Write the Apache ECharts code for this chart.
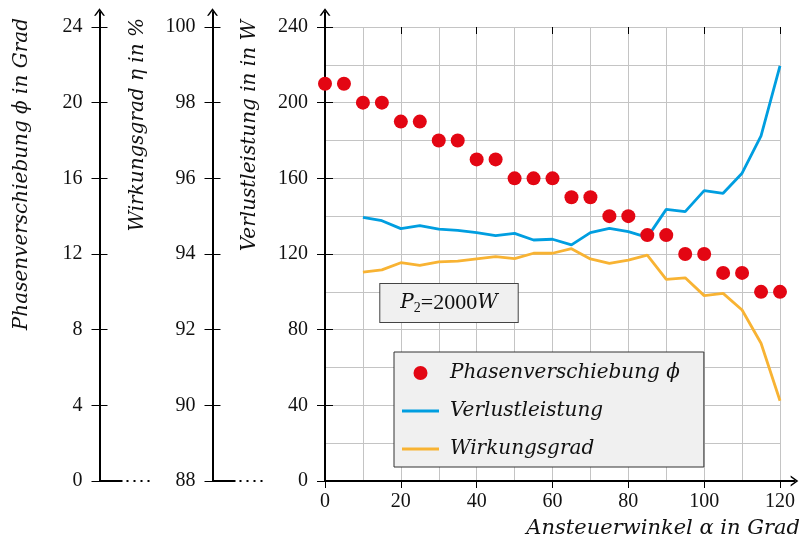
<!DOCTYPE html>
<html>
<head>
<meta charset="utf-8">
<script src="https://cdn.jsdelivr.net/npm/echarts@6/dist/echarts.min.js"></script>
<style>
  html, body { margin: 0; padding: 0; background: #fff; }
  #chart { width: 801px; height: 543px; }
</style>
</head>
<body>
<div id="chart"></div>
<script>
// Ansteuerwinkel (x) for the phase-shift measurements
const alphaPhase = [0, 5, 10, 15, 20, 25, 30, 35, 40, 45, 50, 55, 60, 65, 70, 75, 80, 85, 90, 95, 100, 105, 110, 115, 120];
// Phasenverschiebung phi in Grad
const phase = [21, 21, 20, 20, 19, 19, 18, 18, 17, 17, 16, 16, 16, 15, 15, 14, 14, 13, 13, 12, 12, 11, 11, 10, 10];

// Ansteuerwinkel for losses and efficiency
const alphaLoss = [10, 15, 20, 25, 30, 35, 40, 45, 50, 55, 60, 65, 70, 75, 80, 85, 90, 95, 100, 105, 110, 115, 120];
// Verlustleistung in W
const loss = [139.4, 137.6, 133.4, 135.0, 133.1, 132.5, 131.3, 129.7, 130.9, 127.4, 127.8, 124.8, 131.3, 133.6, 131.8, 128.8, 143.6, 142.4, 153.5, 152.1, 162.7, 182.4, 219.5];
// Wirkungsgrad eta in %
const efficiency = [93.52, 93.58, 93.77, 93.70, 93.79, 93.81, 93.87, 93.93, 93.88, 94.02, 94.02, 94.14, 93.87, 93.75, 93.84, 93.97, 93.33, 93.37, 92.90, 92.96, 92.52, 91.64, 90.12];

// axis ranges: [min, max, step]
const xRange = [0, 120, 20];
const lossRange = [0, 240, 40];
const effRange = [88, 100, 2];
const phaseRange = [0, 24, 4];

const names = {
  phase: 'Phasenverschiebung \u03D5',
  loss: 'Verlustleistung',
  eff: 'Wirkungsgrad'
};

const RED = '#e30613', BLUE = '#009ee0', ORANGE = '#f8b333';
const GRIDC = '#c4c4c4';
const NUMFONT = 'Liberation Serif';
const MATHFONT = 'DejaVu Serif';

// plot frame
const L = 325, R = 21, T = 27, B = 62;
const OFF_EFF = 112.5, OFF_PHASE = 225.5;

const axisLineStyle = { color: '#000', width: 2 };
const arrowPath = 'path://M0,7 L5,0 L10,7 L8.4,7 L5,2.3 L1.6,7 Z';
// flat bar used as the legend key of the two curves
const lineKey = 'path://M0,0 L37,0 L37,3 L0,3 Z';

function yPair(range, offset, withGrid) {
  const main = {
    type: 'value', gridIndex: 0, position: 'left', offset: offset,
    min: range[0], max: range[1], interval: range[2],
    axisLine: { show: true, lineStyle: axisLineStyle },
    axisTick: { show: true, inside: false, length: 8, lineStyle: { color: '#000', width: 1 } },
    axisLabel: { show: true, margin: 17, fontFamily: NUMFONT, fontSize: 20, color: '#111' },
    splitLine: { show: withGrid, lineStyle: { color: GRIDC, width: 1 } },
    minorTick: { show: false, splitNumber: 2 },
    minorSplitLine: { show: withGrid, lineStyle: { color: GRIDC, width: 1 } }
  };
  const inner = {
    type: 'value', gridIndex: 0, position: 'left', offset: offset,
    min: range[0], max: range[1], interval: range[2],
    axisLine: { show: false },
    axisTick: { show: true, inside: true, length: 8, lineStyle: { color: '#000', width: 1 } },
    axisLabel: { show: false },
    splitLine: { show: false }
  };
  return [main, inner];
}

function arrowY(offset) {
  return {
    type: 'value', gridIndex: 1, position: 'left', offset: offset, min: 0, max: 1,
    axisLine: { show: true, lineStyle: axisLineStyle, symbol: ['none', arrowPath], symbolSize: [11, 8] },
    axisTick: { show: false }, axisLabel: { show: false }, splitLine: { show: false }
  };
}

const yAxes = [].concat(
  yPair(lossRange, 0, true),
  yPair(effRange, OFF_EFF, false),
  yPair(phaseRange, OFF_PHASE, false),
  [arrowY(0), arrowY(OFF_EFF), arrowY(OFF_PHASE)]
);

const xAxes = [
  {
    type: 'value', gridIndex: 0, min: xRange[0], max: xRange[1], interval: xRange[2],
    axisLine: { show: true, onZero: false, lineStyle: axisLineStyle },
    axisTick: { show: true, inside: false, length: 7, lineStyle: { color: '#000', width: 1 } },
    axisLabel: { margin: 11, fontFamily: NUMFONT, fontSize: 20, color: '#111' },
    splitLine: { show: true, lineStyle: { color: GRIDC, width: 1 } },
    minorTick: { show: false, splitNumber: 2 },
    minorSplitLine: { show: true, lineStyle: { color: GRIDC, width: 1 } }
  },
  {
    type: 'value', gridIndex: 0, min: xRange[0], max: xRange[1], interval: xRange[2],
    axisLine: { show: false, onZero: false },
    axisTick: { show: true, inside: true, length: 7, lineStyle: { color: '#000', width: 1 } },
    axisLabel: { show: false }, splitLine: { show: false }
  },
  {
    type: 'value', gridIndex: 1, min: 0, max: 1,
    axisLine: { show: true, onZero: false, lineStyle: axisLineStyle, symbol: ['none', arrowPath], symbolSize: [11, 8] },
    axisTick: { show: false }, axisLabel: { show: false }, splitLine: { show: false }
  }
];

const titleStyle = { fontFamily: MATHFONT, fontStyle: 'italic', fontSize: 20, fill: '#111' };

function vTitle(x, y, text) {
  return {
    type: 'text', x: x, y: y, rotation: Math.PI / 2, z: 50,
    style: Object.assign({ text: text, align: 'right', verticalAlign: 'middle' }, titleStyle)
  };
}

// short axis stubs with dots at the foot of the two detached scales
function brokenFoot(offset) {
  const x0 = L - offset, y0 = 543 - B;
  return [
    { type: 'line', z: 50, shape: { x1: x0, y1: y0, x2: x0 + 23, y2: y0 }, style: { stroke: '#000', lineWidth: 2 } },
    { type: 'line', z: 50, shape: { x1: x0 + 27, y1: y0, x2: x0 + 53, y2: y0 }, style: { stroke: '#000', lineWidth: 2, lineDash: [2, 5] } }
  ];
}

const option = {
  animation: false,
  backgroundColor: '#fff',
  grid: [
    { left: L, right: R, top: T, bottom: B },
    { left: L, right: 6.5, top: 12, bottom: B }
  ],
  xAxis: xAxes,
  yAxis: yAxes,
  legend: {
    orient: 'vertical', left: 394, top: 352,
    data: [
      { name: names.phase, icon: 'circle' },
      { name: names.loss, icon: lineKey },
      { name: names.eff, icon: lineKey }
    ],
    itemWidth: 37, itemHeight: 14, itemGap: 18,
    padding: [11, 24, 8, 8],
    backgroundColor: '#f0f0f0', borderColor: '#333', borderWidth: 1, borderRadius: 0,
    selectedMode: false,
    textStyle: { fontFamily: MATHFONT, fontStyle: 'italic', fontSize: 20, color: '#111', padding: [0, 0, 0, 6] }
  },
  series: [
    {
      name: names.loss, type: 'line', xAxisIndex: 0, yAxisIndex: 0,
      data: alphaLoss.map((a, i) => [a, loss[i]]),
      symbol: 'none', lineStyle: { color: BLUE, width: 2.8 }, itemStyle: { color: BLUE }, z: 3
    },
    {
      name: names.eff, type: 'line', xAxisIndex: 0, yAxisIndex: 2,
      data: alphaLoss.map((a, i) => [a, efficiency[i]]),
      symbol: 'none', lineStyle: { color: ORANGE, width: 2.8 }, itemStyle: { color: ORANGE }, z: 2
    },
    {
      name: names.phase, type: 'scatter', xAxisIndex: 0, yAxisIndex: 4,
      data: alphaPhase.map((a, i) => [a, phase[i]]),
      symbol: 'circle', symbolSize: 14, itemStyle: { color: RED, opacity: 1 }, z: 4
    }
  ],
  graphic: [
    vTitle(22, 18, 'Phasenverschiebung \u03D5 in Grad'),
    vTitle(137.5, 18, 'Wirkungsgrad \u03B7 in %'),
    vTitle(249.5, 20, 'Verlustleistung in in W'),
    {
      type: 'text', x: 800, y: 529, z: 50,
      style: Object.assign({ text: 'Ansteuerwinkel \u03B1 in Grad', align: 'right', verticalAlign: 'middle' }, titleStyle, { fontSize: 21 })
    },
    {
      type: 'text', x: 449, y: 303, z: 60,
      style: {
        text: '{i|P}{s|2}{n|=2000}{i|W}',
        align: 'center', verticalAlign: 'middle',
        backgroundColor: '#f0f0f0', borderColor: '#444', borderWidth: 1,
        padding: [7, 20, 7, 20],
        rich: {
          i: { fontFamily: MATHFONT, fontStyle: 'italic', fontSize: 20, fill: '#111', verticalAlign: 'middle' },
          s: { fontFamily: NUMFONT, fontSize: 14, fill: '#111', padding: [10, 0, 0, 0], verticalAlign: 'middle' },
          n: { fontFamily: NUMFONT, fontSize: 22, fill: '#111', verticalAlign: 'middle' }
        }
      }
    }
  ].concat(brokenFoot(OFF_EFF), brokenFoot(OFF_PHASE))
};

const chart = echarts.init(document.getElementById('chart'), null, { renderer: 'canvas' });
chart.setOption(option);
</script>
</body>
</html>
